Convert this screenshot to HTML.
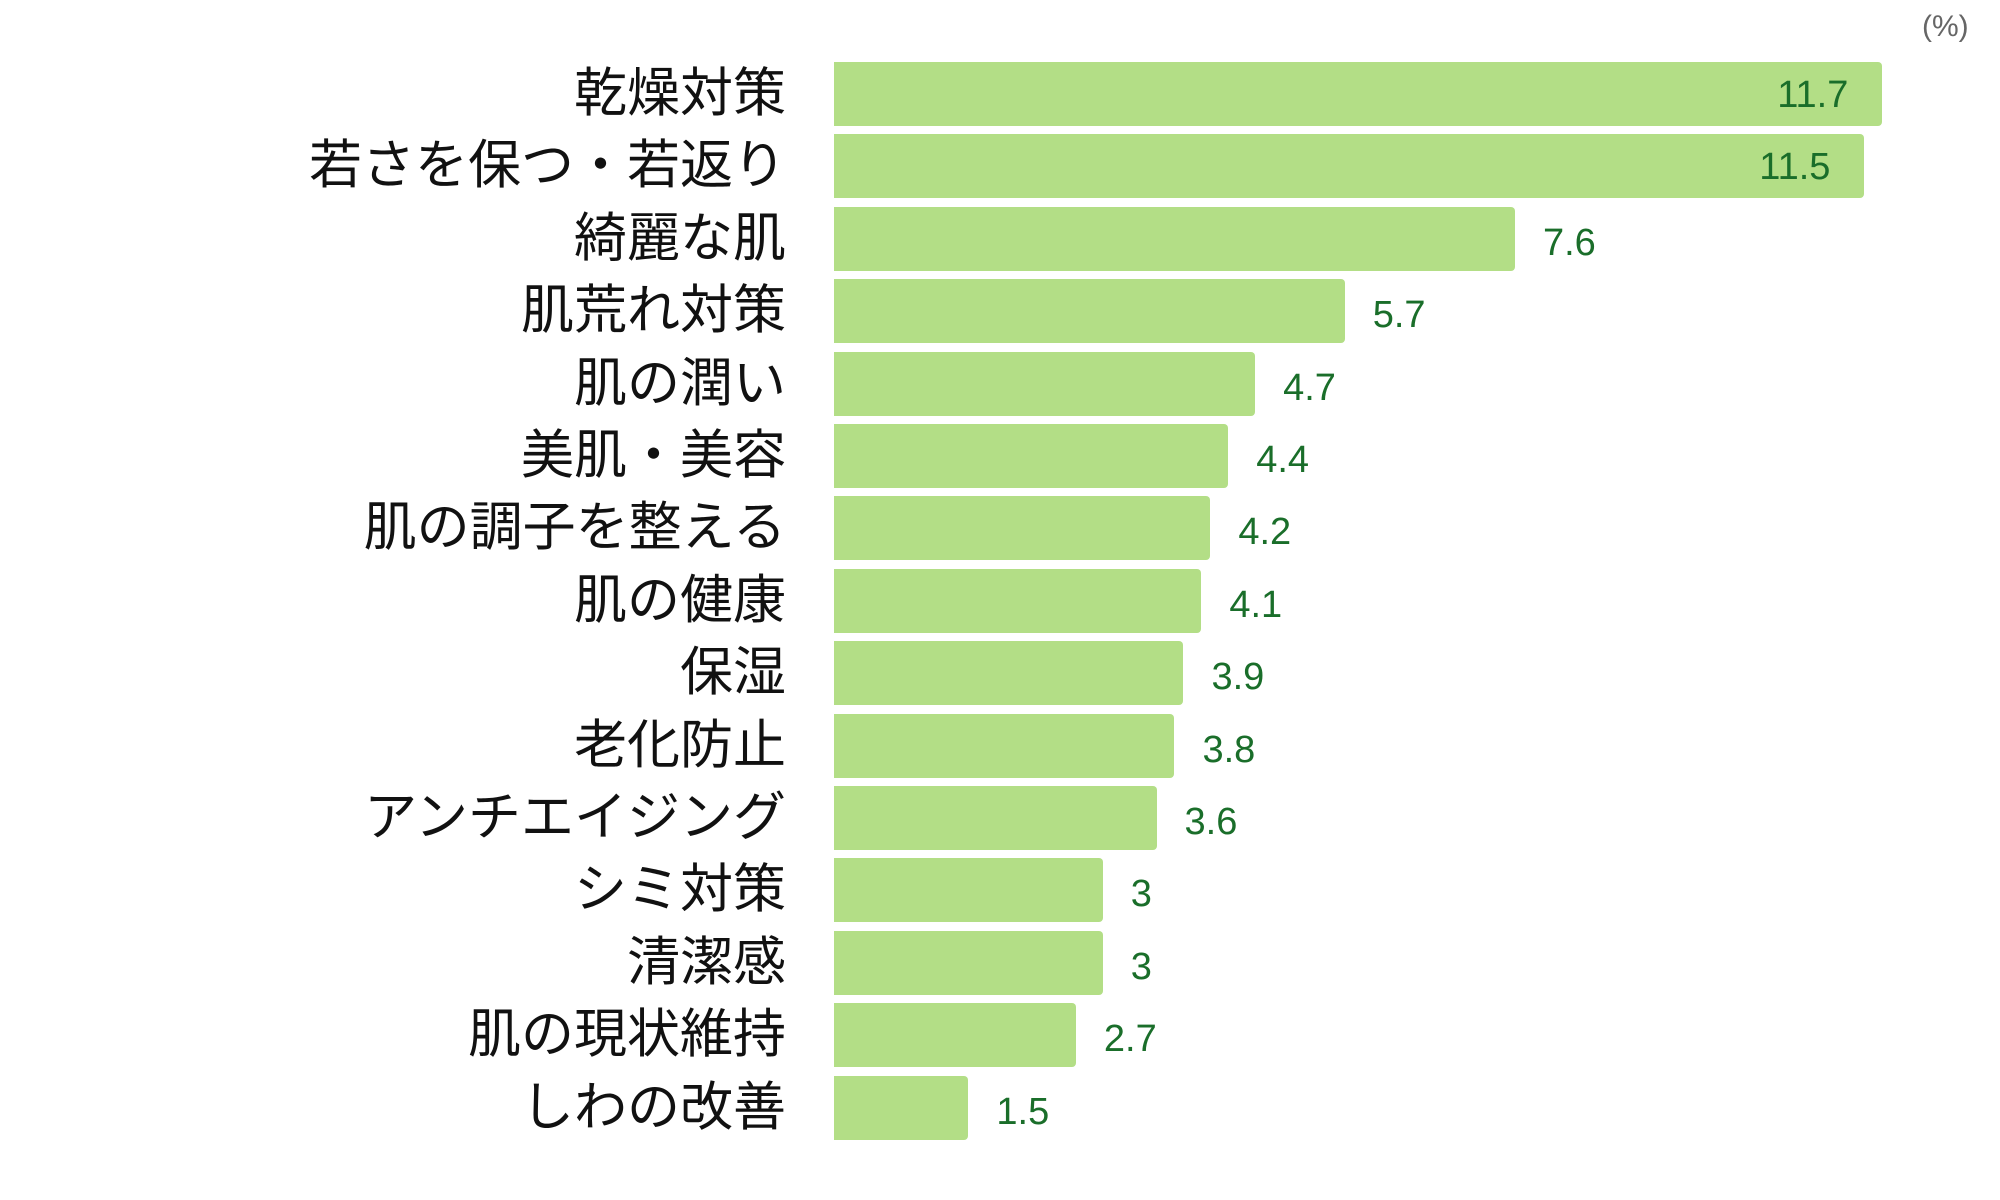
<!DOCTYPE html>
<html><head><meta charset="utf-8"><style>
body{margin:0;width:2000px;height:1200px;background:#fff;position:relative;overflow:hidden;font-family:"Liberation Sans","Noto Sans CJK JP",sans-serif}
.l{position:absolute;right:1214px;font-size:53px;color:#111;line-height:64px;white-space:nowrap}
.b{position:absolute;left:834px;height:64px;background:#b3de86;border-radius:0 4px 4px 0}
.v{position:absolute;font-size:38px;color:#1a6e2a;line-height:64px;white-space:nowrap}
</style></head><body>
<div style="position:absolute;left:1922px;top:10px;font-size:30px;color:#666">(%)</div>
<div id="c"></div>
<script>
var d=[["乾燥対策",11.7],["若さを保つ・若返り",11.5],["綺麗な肌",7.6],["肌荒れ対策",5.7],["肌の潤い",4.7],["美肌・美容",4.4],["肌の調子を整える",4.2],["肌の健康",4.1],["保湿",3.9],["老化防止",3.8],["アンチエイジング",3.6],["シミ対策",3],["清潔感",3],["肌の現状維持",2.7],["しわの改善",1.5]];
var h="";
d.forEach(function(e,i){var t=62+i*72.4;var w=e[1]*89.6;
h+='<div class="l" style="top:'+t+'px">'+e[0]+'</div>';
h+='<div class="b" style="top:'+t+'px;width:'+w+'px"></div>';
if(e[1]>10)h+='<div class="v" style="top:'+(t+1)+'px;right:'+(2000-834-w+34)+'px">'+e[1]+'</div>';
else h+='<div class="v" style="top:'+(t+4)+'px;left:'+(834+w+28)+'px">'+e[1]+'</div>';});
document.getElementById("c").innerHTML=h;
</script>
</body></html>
